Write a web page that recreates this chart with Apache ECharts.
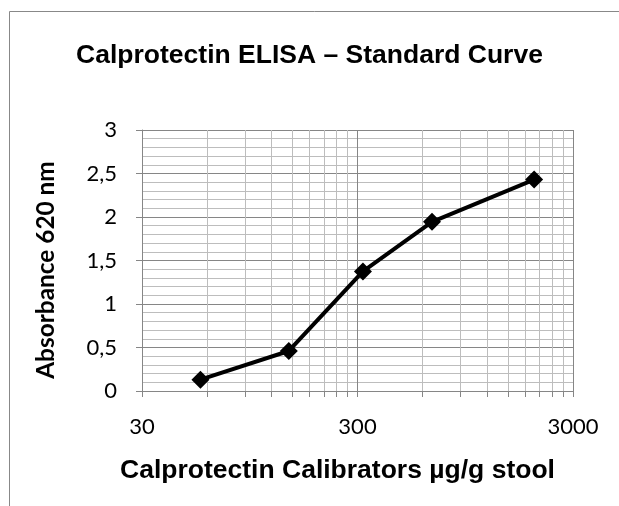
<!DOCTYPE html>
<html>
<head>
<meta charset="utf-8">
<script src="https://cdn.jsdelivr.net/npm/echarts@6/dist/echarts.min.js"></script>
<style>html,body{margin:0;padding:0;background:#fff}#c{width:619px;height:506px}</style>
</head>
<body>
<div id="c"></div>
<script>
// Data
const calibrators = [56, 144, 318, 665, 1980];      // µg/g stool
const absorbance  = [0.13, 0.46, 1.375, 1.945, 2.43]; // OD 620 nm
const xMajorTicks = [30, 300, 3000];
const xMinorTicks = [60, 90, 120, 150, 180, 210, 240, 270, 600, 900, 1200, 1500, 1800, 2100, 2400, 2700];
const yTicks = [0, 0.5, 1, 1.5, 2, 2.5, 3];

const chart = echarts.init(document.getElementById('c'), null, {renderer: 'canvas'});
const gridCol = '#868686', minorCol = '#bdbdbd';
const labelFont = 'Lato, "Open Sans", sans-serif';
chart.setOption({
  animation: false,
  backgroundColor: '#fff',
  title: {
    text: 'Calprotectin ELISA \u2013 Standard Curve',
    left: 'center', top: 37,
    textStyle: {fontFamily: '"Liberation Sans", Arial, sans-serif', fontWeight: 'bold', fontSize: 26.5, color: '#000'}
  },
  graphic: [{
    type: 'rect', shape: {x: 9.5, y: 11.5, width: 800, height: 800},
    style: {fill: 'none', stroke: '#888', lineWidth: 1}, silent: true, z: -1
  }],
  grid: {left: 142, right: 46, top: 130, bottom: 115, containLabel: false},
  xAxis: [{
    type: 'log', logBase: 10, min: 30, max: 3000, position: 'bottom',
    axisLine: {show: true, lineStyle: {color: gridCol, width: 1}},
    axisTick: {show: true, customValues: xMinorTicks, length: 6, lineStyle: {color: gridCol}},
    axisLabel: {show: false},
    splitLine: {show: true, lineStyle: {color: minorCol, width: 1}}
  }, {
    type: 'log', logBase: 10, min: 30, max: 3000, position: 'bottom',
    axisLine: {show: false},
    axisTick: {show: true, customValues: xMajorTicks, length: 6, lineStyle: {color: gridCol}},
    axisLabel: {show: true, customValues: xMajorTicks, fontFamily: labelFont, fontSize: 22, color: '#000', margin: 25,
      formatter: v => String(v)},
    splitLine: {show: true, lineStyle: {color: gridCol, width: 1}},
    name: 'Calprotectin Calibrators \u00b5g/g stool', nameLocation: 'middle', nameGap: 66,
    nameTextStyle: {fontFamily: '"Liberation Sans", Arial, sans-serif', fontWeight: 'bold', fontSize: 26.5, color: '#000', padding: [0, 40, 0, 0]}
  }],
  yAxis: {
    type: 'value', min: 0, max: 3, interval: 0.5,
    axisLine: {show: true, lineStyle: {color: gridCol}},
    axisTick: {show: true, length: 6, lineStyle: {color: gridCol}},
    axisLabel: {fontFamily: labelFont, fontSize: 22, color: '#000', margin: 25,
      formatter: v => String(v).replace('.', ',')},
    splitLine: {show: true, lineStyle: {color: gridCol, width: 1}},
    minorTick: {show: false, splitNumber: 5},
    minorSplitLine: {show: true, lineStyle: {color: minorCol, width: 1}},
    name: 'Absorbance 620 nm', nameLocation: 'middle', nameGap: 84,
    nameTextStyle: {fontFamily: labelFont, fontWeight: 'bold', fontSize: 24.4, color: '#000', padding: [0, 19, 0, 0]}
  },
  series: [{
    type: 'line', xAxisIndex: 0,
    data: calibrators.map((c, i) => [c, absorbance[i]]),
    symbol: 'diamond', symbolSize: 18,
    itemStyle: {color: '#000'},
    lineStyle: {color: '#000', width: 4},
    z: 5
  }]
});
</script>
</body>
</html>
